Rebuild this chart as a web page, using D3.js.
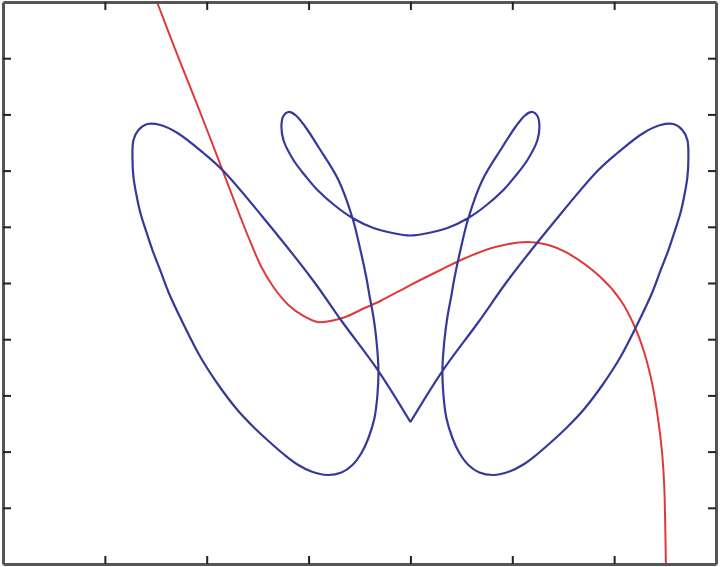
<!DOCTYPE html>
<html>
<head>
<meta charset="utf-8">
<script src="https://cdn.jsdelivr.net/npm/d3@7"></script>
<style>
  html, body { margin: 0; padding: 0; background: #fff; }
  svg { display: block; }
</style>
</head>
<body>
<svg id="chart" width="720" height="567"></svg>
<script>
// ---- data ----
const xTicks = [-3, -2, -1, 0, 1, 2];
const yTicks = [-4, -3, -2, -1, 0, 1, 2, 3, 4];

const blueX = [
  0, -0.314, -0.668, -0.952, -1.394, -1.836, -2.032, -2.287, -2.454, -2.582,
  -2.670, -2.719, -2.729, -2.719, -2.690, -2.651, -2.592, -2.533, -2.454, -2.376,
  -2.229, -2.062, -1.885, -1.698, -1.541, -1.394, -1.247, -1.109, -0.972, -0.815,
  -0.677, -0.569, -0.481, -0.412, -0.353, -0.324, -0.314, -0.334, -0.363, -0.403,
  -0.432, -0.491, -0.569, -0.707, -0.903, -1.031, -1.129, -1.198, -1.247, -1.266,
  -1.247, -1.149, -1.031, -0.913, -0.736, -0.569, -0.363, -0.177, 0,
  0.177, 0.363, 0.569, 0.736, 0.913, 1.031, 1.149, 1.247, 1.266, 1.247,
  1.198, 1.129, 1.031, 0.903, 0.707, 0.569, 0.491, 0.432, 0.403, 0.363,
  0.334, 0.314, 0.324, 0.353, 0.412, 0.481, 0.569, 0.677, 0.815, 0.972,
  1.109, 1.247, 1.394, 1.541, 1.698, 1.885, 2.062, 2.229, 2.376, 2.454,
  2.533, 2.592, 2.651, 2.690, 2.719, 2.729, 2.719, 2.670, 2.582, 2.454,
  2.287, 2.032, 1.836, 1.394, 0.952, 0.668, 0.314, 0
];
const blueY = [
  -2.473, -1.566, -0.694, 0.036, 1.050, 1.993, 2.313, 2.669, 2.811, 2.829,
  2.722, 2.544, 2.224, 1.886, 1.566, 1.246, 0.907, 0.587, 0.214, -0.160,
  -0.730, -1.317, -1.815, -2.260, -2.562, -2.811, -3.043, -3.230, -3.354, -3.416,
  -3.372, -3.238, -3.025, -2.758, -2.402, -1.993, -1.548, -1.014, -0.605, -0.214,
  0.089, 0.587, 1.157, 1.833, 2.420, 2.776, 2.989, 3.043, 2.972, 2.811,
  2.544, 2.189, 1.904, 1.655, 1.370, 1.157, 0.979, 0.890, 0.845,
  0.890, 0.979, 1.157, 1.370, 1.655, 1.904, 2.189, 2.544, 2.811, 2.972,
  3.043, 2.989, 2.776, 2.420, 1.833, 1.157, 0.587, 0.089, -0.214, -0.605,
  -1.014, -1.548, -1.993, -2.402, -2.758, -3.025, -3.238, -3.372, -3.416, -3.354,
  -3.230, -3.043, -2.811, -2.562, -2.260, -1.815, -1.317, -0.730, -0.160, 0.214,
  0.587, 0.907, 1.246, 1.566, 1.886, 2.224, 2.544, 2.722, 2.829, 2.811,
  2.669, 2.313, 1.993, 1.050, 0.036, -0.694, -1.566, -2.473
];

const redX = [
  -2.484, -2.307, -2.111, -1.846, -1.669, -1.571, -1.463, -1.345, -1.198, -1.050,
  -0.913, -0.785, -0.638, -0.491, -0.295, 0, 0.295, 0.540, 0.834, 1.149,
  1.355, 1.541, 1.865, 2.062, 2.199, 2.297, 2.376, 2.430, 2.469, 2.492,
  2.501, 2.508
];
const redY = [
  4.982, 4.146, 3.256, 2.011, 1.174, 0.730, 0.285, -0.071, -0.391, -0.587,
  -0.694, -0.676, -0.605, -0.480, -0.320, -0.036, 0.231, 0.445, 0.641, 0.730,
  0.676, 0.534, 0.107, -0.302, -0.765, -1.246, -1.815, -2.402, -2.989, -3.612,
  -4.253, -5.0
];

// ---- layout ----
const svg = d3.select("#chart");
const pLeft = 3, pRight = 716, pTop = 2, pBottom = 564;

const x = d3.scaleLinear().domain([-4, 3]).range([pLeft, pRight]);
const y = d3.scaleLinear().domain([-5, 5]).range([pBottom, pTop]);

svg.append("defs").append("clipPath").attr("id", "clip")
  .append("rect").attr("x", pLeft).attr("y", pTop)
  .attr("width", pRight - pLeft).attr("height", pBottom - pTop);

const plot = svg.append("g").attr("clip-path", "url(#clip)");

const blue = blueX.map((v, i) => [v, blueY[i]]);
const red = redX.map((v, i) => [v, redY[i]]);

const line = d3.line()
  .x(d => x(d[0])).y(d => y(d[1]))
  .curve(d3.curveCatmullRom.alpha(0.5));

plot.append("path").datum(red)
  .attr("d", line).attr("fill", "none")
  .attr("stroke", "#e0393b").attr("stroke-width", 2);

plot.append("path").datum(blue)
  .attr("d", line).attr("fill", "none")
  .attr("stroke", "#35399a").attr("stroke-width", 2.2)
  .attr("stroke-linejoin", "miter");

// ---- axes (ticks inward, no labels) ----
const tl = 8;
function style(g) {
  g.selectAll("text").remove();
  g.select(".domain").attr("stroke", "#555").attr("stroke-width", 3);
  g.selectAll(".tick line").attr("stroke", "#222").attr("stroke-width", 2);
}
svg.append("g").attr("transform", `translate(0,${pBottom})`)
  .call(d3.axisBottom(x).tickValues(xTicks).tickSize(-tl).tickSizeOuter(0).tickFormat(""))
  .call(style);
svg.append("g").attr("transform", `translate(0,${pTop})`)
  .call(d3.axisTop(x).tickValues(xTicks).tickSize(-tl).tickSizeOuter(0).tickFormat(""))
  .call(style);
svg.append("g").attr("transform", `translate(${pLeft},0)`)
  .call(d3.axisLeft(y).tickValues(yTicks).tickSize(-tl).tickSizeOuter(0).tickFormat(""))
  .call(style);
svg.append("g").attr("transform", `translate(${pRight},0)`)
  .call(d3.axisRight(y).tickValues(yTicks).tickSize(-tl).tickSizeOuter(0).tickFormat(""))
  .call(style);
</script>
</body>
</html>
